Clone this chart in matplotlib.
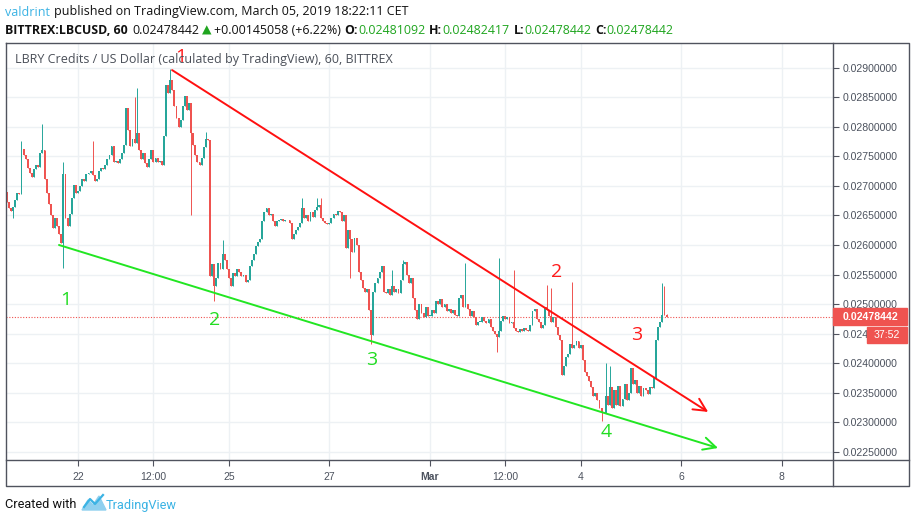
import numpy as np
import matplotlib
matplotlib.use('Agg')
import matplotlib.pyplot as plt
from matplotlib.lines import Line2D
from matplotlib.patches import Rectangle, Polygon

# Figure size in pixels
W, H = 916, 523

# Hourly closes (units of 1e-5 USD), one list per day, hours counted from Feb 22 00:00
feb20 = [2672, 2662, 2658, 2665, 2676, 2688, 2686, 2762, 2752, 2745]
feb21 = [2730, 2722, 2715, 2728, 2735, 2732, 2755, 2760, 2712, 2688, 2670, 2650,
         2628, 2645, 2632, 2618, 2603, 2720, 2645, 2632, 2652, 2680, 2702, 2688]
feb22 = [2692, 2700, 2712, 2708, 2720, 2722, 2725, 2718, 2708, 2712, 2725, 2730,
         2728, 2735, 2745, 2752, 2768, 2740, 2742, 2738, 2745, 2755, 2770, 2832]
feb23 = [2795, 2768, 2780, 2772, 2790, 2760, 2745, 2755, 2738, 2732, 2745, 2760,
         2740, 2748, 2740, 2742, 2736, 2785, 2870, 2858, 2880, 2862, 2835, 2815]
feb24 = [2800, 2812, 2835, 2852, 2828, 2840, 2790, 2770, 2752, 2740, 2735, 2748,
         2765, 2780, 2778, 2548, 2568, 2530, 2545, 2570, 2560, 2585, 2575, 2560]
feb25 = [2545, 2530, 2552, 2548, 2560, 2555, 2548, 2550, 2538, 2540, 2565, 2575,
         2585, 2598, 2605, 2610, 2640, 2655, 2662, 2650, 2652, 2640, 2632, 2640]
feb26 = [2642, 2644, 2641, 2643, 2642, 2638, 2610, 2618, 2625, 2630, 2638, 2662,
         2645, 2650, 2640, 2655, 2648, 2660, 2665, 2668, 2645, 2640, 2638, 2636]
feb27 = [2638, 2645, 2652, 2650, 2658, 2655, 2640, 2650, 2595, 2625, 2610, 2588,
         2612, 2600, 2555, 2540, 2528, 2520, 2525, 2490, 2448, 2520, 2535, 2545]
feb28 = [2555, 2565, 2520, 2518, 2525, 2515, 2530, 2520, 2525, 2518, 2540, 2568,
         2572, 2550, 2535, 2545, 2510, 2490, 2475, 2500, 2485, 2478, 2495, 2480]
mar1 = [2480, 2490, 2485, 2505, 2500, 2508, 2495, 2500, 2488, 2492, 2485, 2490,
        2482, 2480, 2510, 2515, 2495, 2500, 2492, 2480, 2488, 2478, 2465, 2470]
mar2 = [2470, 2478, 2472, 2468, 2475, 2462, 2455, 2450, 2445, 2455, 2472, 2480,
        2475, 2478, 2468, 2470, 2460, 2455, 2452, 2458, 2455, 2460, 2457, 2455]
mar3 = [2465, 2488, 2492, 2475, 2470, 2460, 2465, 2495, 2490, 2480, 2470, 2478,
        2462, 2448, 2440, 2380, 2395, 2410, 2415, 2432, 2425, 2430, 2438, 2425]
mar4 = [2430, 2405, 2385, 2378, 2370, 2360, 2345, 2350, 2338, 2325, 2318, 2315,
        2345, 2330, 2360, 2325, 2355, 2330, 2362, 2328, 2340, 2365, 2338, 2350]
mar5 = [2392, 2365, 2372, 2350, 2362, 2345, 2358, 2355, 2348, 2360, 2358, 2375,
        2440, 2462, 2470, 2482, 2481.092, 2478.442]

first_open = 2690
first_hour = -34  # Feb 20 14:00

# Wicks that stick out of the bodies (hour -> price, 1e-5 USD)
wick_high = {-27: 2776, -17: 2805, -7: 2740, 7: 2776, 27: 2850, 28: 2865, 44: 2897,
             61: 2792, 69: 2609, 107: 2679, 114: 2679, 116: 2680, 150: 2557, 155: 2575,
             185: 2570, 201: 2578, 208: 2558, 224: 2532, 226: 2528, 236: 2538,
             252: 2400, 254: 2395, 279: 2535, 280: 2530, 281: 2482.417}
wick_low = {-31: 2645, -7: 2561, 54: 2650, 65: 2505, 130: 2545, 140: 2432,
            200: 2419, 250: 2302}

# Drawn trend lines (hour, price)
red_line_hours = [44.9, 300.9]
red_line_prices = [0.02896, 0.023175]
green_line_hours = [-9.1, 305.6]
green_line_prices = [0.02600, 0.022565]

# Wave labels
red_labels = ['1', '2', '3']
red_label_hours = [49.2, 228.3, 266.5]
red_label_prices = [0.02918, 0.02554, 0.02448]
green_labels = ['1', '2', '3', '4']
green_label_hours = [-5.7, 65.0, 140.4, 252.1]
green_label_prices = [0.02507, 0.02473, 0.02405, 0.02283]

# Time axis labels
tick_hours = [0, 36, 72, 120, 168, 204, 240, 288, 336]
tick_labels = ['22', '12:00', '25', '27', 'Mar', '12:00', '4', '6', '8']

UP = '#26a69a'
DOWN = '#ef5350'
GRID = '#edf1f4'
FRAME = '#50535e'
AXTXT = '#4c525e'
GREEN_TXT = '#1fa51f'
BLUE = '#3bb3e4'


def fx(px):
    return px / W


def fy(py):
    return 1 - py / H


# Build OHLC arrays
closes = np.array(feb20 + feb21 + feb22 + feb23 + feb24 + feb25 + feb26 +
                  feb27 + feb28 + mar1 + mar2 + mar3 + mar4 + mar5) * 1e-5
hours = np.arange(first_hour, first_hour + len(closes))
opens = np.concatenate([[first_open * 1e-5], closes[:-1]])
highs = np.maximum(opens, closes)
lows = np.minimum(opens, closes)
for h, v in wick_high.items():
    highs[h - first_hour] = max(highs[h - first_hour], v * 1e-5)
for h, v in wick_low.items():
    lows[h - first_hour] = min(lows[h - first_hour], v * 1e-5)

fig = plt.figure(figsize=(W / 100, H / 100), dpi=100)
fig.patch.set_facecolor('white')

# Plot area: x 6..833, y 43..460 (pixels)
ax = fig.add_axes([fx(6), fy(460), fx(833) - fx(6), fy(43) - fy(460)])
ax.set_xlim(-34.4, 360.5)
ax.set_ylim(0.022362, 0.029418)

# Grid
for t in tick_hours:
    ax.axvline(t, color=GRID, lw=1, zorder=0)
yticks = np.arange(0.0225, 0.02901, 0.0005)
for t in yticks:
    ax.axhline(t, color=GRID, lw=1, zorder=0)

# Candles
colors = np.where(closes >= opens, UP, DOWN)
ax.vlines(hours, lows, highs, colors=colors, lw=0.7, zorder=2)
body = np.maximum(np.abs(closes - opens), 0.00001)
ax.bar(hours, body, bottom=np.minimum(opens, closes), width=0.9, color=colors,
       linewidth=0, zorder=3)

# Current price dotted line
ax.axhline(closes[-1], color=DOWN, lw=0.8, ls=(0, (1, 1.5)), zorder=1)

# Trend lines with arrow heads
ax.annotate('', xy=(red_line_hours[1], red_line_prices[1]),
            xytext=(red_line_hours[0], red_line_prices[0]),
            arrowprops=dict(arrowstyle='->,head_length=0.9,head_width=0.45',
                            color='#ff1010', lw=1.4, shrinkA=0, shrinkB=0), zorder=5)
ax.annotate('', xy=(green_line_hours[1], green_line_prices[1]),
            xytext=(green_line_hours[0], green_line_prices[0]),
            arrowprops=dict(arrowstyle='->,head_length=0.9,head_width=0.45',
                            color='#22e622', lw=1.4, shrinkA=0, shrinkB=0), zorder=5)

for s, hx, py in zip(red_labels, red_label_hours, red_label_prices):
    ax.text(hx, py, s, color='#ff1a1a', fontsize=14, ha='center', va='center',
            family='Open Sans', zorder=6)
for s, hx, py in zip(green_labels, green_label_hours, green_label_prices):
    ax.text(hx, py, s, color='#22dd22', fontsize=14, ha='center', va='center',
            family='Open Sans', zorder=6)

# Axes styling
for sp in ax.spines.values():
    sp.set_visible(False)
ax.set_xticks(tick_hours)
ax.set_xticklabels(tick_labels, fontsize=7.5, color=AXTXT, family='Liberation Sans')
ax.get_xticklabels()[4].set_fontweight('bold')
ax.tick_params(axis='x', length=4, width=0.8, color=FRAME, pad=5)
ax.yaxis.tick_right()
ax.set_yticks(yticks)
ax.set_yticklabels(['%.8f' % v for v in yticks], fontsize=7.6, color=AXTXT,
                   family='Liberation Sans')
ax.tick_params(axis='y', length=4, width=0.8, color=FRAME, pad=3)

# Chart title inside the pane
fig.text(fx(15), fy(60), 'LBRY Credits / US Dollar (calculated by TradingView), 60, BITTREX',
         fontsize=9.0, color='#4a4f58', family='Open Sans', va='center', ha='left')

# Frame and separators
frame_kw = dict(color=FRAME, lw=1.0, transform=fig.transFigure)
fig.add_artist(Line2D([fx(6), fx(909), fx(909), fx(6), fx(6)],
                      [fy(43), fy(43), fy(486), fy(486), fy(43)], **frame_kw))
fig.add_artist(Line2D([fx(833), fx(833)], [fy(43), fy(486)], **frame_kw))
fig.add_artist(Line2D([fx(6), fx(909)], [fy(460), fy(460)], **frame_kw))

# Last price label and countdown on the price scale
fig.add_artist(Rectangle((fx(833), fy(325)), fx(907) - fx(833), fy(308) - fy(325),
                         color=DOWN, transform=fig.transFigure, zorder=10))
fig.text(fx(870), fy(316.5), '%.8f' % closes[-1], color='white', fontsize=7.6,
         fontweight='bold', family='Liberation Sans', ha='center', va='center', zorder=11)
fig.add_artist(Rectangle((fx(867), fy(343)), fx(907) - fx(867), fy(327) - fy(343),
                         color=DOWN, transform=fig.transFigure, zorder=10))
fig.text(fx(887), fy(335), '37:52', color='white', fontsize=7.6,
         family='Liberation Sans', ha='center', va='center', zorder=11)

# Header text runs
fig.canvas.draw()
renderer = fig.canvas.get_renderer()


def draw_run(x, y, parts, size):
    for s, color, weight, gap, fam in parts:
        t = fig.text(fx(x), fy(y), s, color=color, fontweight=weight, fontsize=size,
                     family=fam, ha='left', va='center')
        x += t.get_window_extent(renderer=renderer).width + gap


OS = 'Open Sans'
draw_run(5, 12, [('valdrint', BLUE, 'normal', 3.5, OS),
                 ('published on TradingView.com, March 05, 2019 18:22:11 CET', '#111111', 'normal', 0, OS)], 9.0)
draw_run(5, 30, [('BITTREX:LBCUSD, 60', '#111111', 'bold', 4.5, OS),
                 ('0.02478442', '#111111', 'normal', 3, OS),
                 ('\u25b2', GREEN_TXT, 'normal', 2, 'DejaVu Sans'),
                 ('+0.00145058 (+6.22%)', '#111111', 'normal', 4, OS),
                 ('O:', '#111111', 'bold', 0, OS), ('0.02481092', GREEN_TXT, 'normal', 4, OS),
                 ('H:', '#111111', 'bold', 0, OS), ('0.02482417', GREEN_TXT, 'normal', 4, OS),
                 ('L:', '#111111', 'bold', 0, OS), ('0.02478442', GREEN_TXT, 'normal', 4, OS),
                 ('C:', '#111111', 'bold', 0, OS), ('0.02478442', GREEN_TXT, 'normal', 0, OS)], 8.9)

# Footer with logo
fig.text(fx(5), fy(505), 'Created with', fontsize=9.2, color='#111111',
         family='Roboto', ha='left', va='center')
logo = [(82, 510), (88, 500), (93, 505), (99, 496), (106, 510)]
fig.add_artist(Polygon([(fx(px), fy(py)) for px, py in logo], closed=True,
                       color='#8fd0ef', transform=fig.transFigure))
fig.add_artist(Line2D([fx(84), fx(90), fx(95), fx(103)], [fy(507), fy(499), fy(504), fy(495)],
                      color=BLUE, lw=1.6, transform=fig.transFigure))
fig.text(fx(106), fy(505), 'TradingView', fontsize=9.2, color=BLUE,
         family='Roboto', ha='left', va='center')

fig.savefig('out.png', dpi=100)
